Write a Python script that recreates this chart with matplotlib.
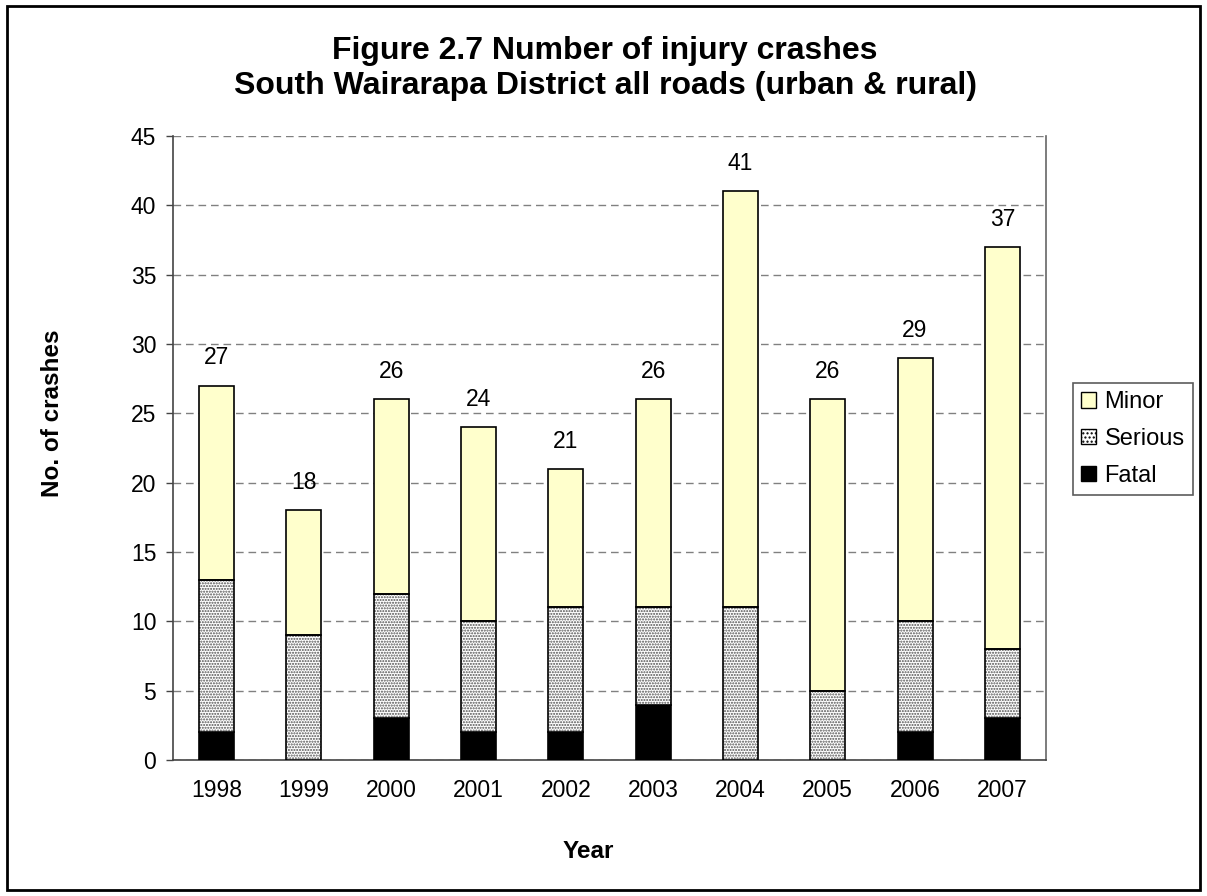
import matplotlib
matplotlib.use("Agg")
import matplotlib.pyplot as plt
from matplotlib.patches import Rectangle, Patch

plt.rcParams["font.family"] = ["Liberation Sans", "DejaVu Sans"]

years = ["1998", "1999", "2000", "2001", "2002", "2003", "2004", "2005", "2006", "2007"]
fatal = [2, 0, 3, 2, 2, 4, 0, 0, 2, 3]
serious = [11, 9, 9, 8, 9, 7, 11, 5, 8, 5]
minor = [14, 9, 14, 14, 10, 15, 30, 21, 19, 29]
totals = [f + s + m for f, s, m in zip(fatal, serious, minor)]

W, H = 1207, 896
fig = plt.figure(figsize=(W / 100, H / 100), dpi=100)
ax = fig.add_axes([173 / W, 1 - 760 / H, (1046 - 173) / W, (760 - 136) / H])

x = list(range(len(years)))
w = 0.4
bottoms_s = fatal
bottoms_m = [f + s for f, s in zip(fatal, serious)]

ax.bar(x, fatal, w, color="black", edgecolor="black", linewidth=1.2, zorder=3)
# serious: grey dotted fill, black outline drawn on top
ax.bar(x, serious, w, bottom=bottoms_s, color="white", edgecolor="#505050",
       hatch="......", linewidth=0, zorder=3)
ax.bar(x, serious, w, bottom=bottoms_s, fill=False, edgecolor="black",
       linewidth=1.2, zorder=4)
ax.bar(x, minor, w, bottom=bottoms_m, color="#FFFFCC", edgecolor="black",
       linewidth=1.2, zorder=3)

for xi, t in zip(x, totals):
    ax.text(xi, t + 2.0, str(t), ha="center", va="center", fontsize=16.5)

ax.set_xlim(-0.5, len(years) - 0.5)
ax.set_ylim(0, 45)
ax.set_yticks(range(0, 46, 5))
ax.set_xticks(x)
ax.set_xticklabels(years)
ax.tick_params(axis="both", labelsize=16.5, color="#444444", length=5, width=1)
ax.tick_params(axis="x", length=0, pad=14)
ax.tick_params(axis="y", pad=7)
ax.yaxis.grid(True, linestyle=(0, (5.5, 3.5)), color="#808080", linewidth=1)
ax.set_axisbelow(True)
ax.spines["top"].set_visible(False)
for s in ("left", "bottom", "right"):
    ax.spines[s].set_color("#444444")
    ax.spines[s].set_linewidth(1.2)
ax.spines["right"].set_color("#666666")

fig.text(588 / W, 1 - 851 / H, "Year", ha="center", va="center",
         fontsize=17.5, fontweight="bold")
fig.text(53 / W, 1 - 413 / H, "No. of crashes", ha="center", va="center",
         rotation=90, fontsize=17.5, fontweight="bold")

fig.text(605 / W, 1 - 51 / H, "Figure 2.7 Number of injury crashes",
         ha="center", va="center", fontsize=23, fontweight="bold")
fig.text(605 / W, 1 - 86 / H,
         "South Wairarapa District all roads (urban & rural)", ha="center",
         va="center", fontsize=23, fontweight="bold")

handles = [
    Patch(facecolor="#FFFFCC", edgecolor="black", label="Minor"),
    Patch(facecolor="white", edgecolor="black", hatch="....", label="Serious"),
    Patch(facecolor="black", edgecolor="black", label="Fatal"),
]
leg = fig.legend(handles=handles, loc="upper left",
                 bbox_to_anchor=(1073 / W, 1 - 383 / H), fontsize=17,
                 frameon=True, fancybox=False, edgecolor="#333333",
                 handlelength=0.63, handleheight=0.63, handletextpad=0.35,
                 borderpad=0.35, labelspacing=0.62, borderaxespad=0)
leg.get_frame().set_linewidth(1.2)

fig.add_artist(Rectangle((7 / W, 6 / H), 1193 / W, 884 / H,
                         transform=fig.transFigure, fill=False,
                         edgecolor="black", linewidth=2))

fig.savefig("out.png", dpi=100, facecolor="white")
